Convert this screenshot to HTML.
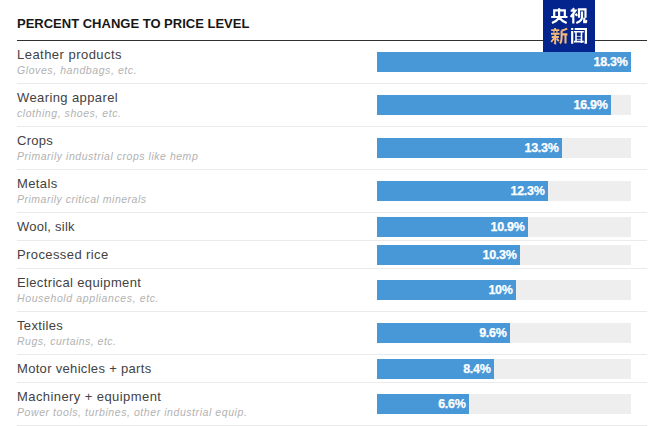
<!DOCTYPE html>
<html><head><meta charset="utf-8">
<style>
html,body{margin:0;padding:0;background:#fff;}
body{width:655px;height:426px;position:relative;overflow:hidden;font-family:"Liberation Sans",sans-serif;}
.title{position:absolute;left:17px;top:16px;font-size:13px;line-height:15px;font-weight:bold;color:#171717;white-space:nowrap;letter-spacing:0px;}
.hl{position:absolute;left:17px;top:40px;width:630px;height:1px;background:#303030;}
.logo{position:absolute;left:543px;top:0;width:52px;height:52px;background:#02248c;}
.row{position:absolute;left:17px;width:630px;border-bottom:1px solid #ebebeb;}
.n{position:absolute;left:0;top:6px;font-size:13px;line-height:15px;color:#424242;white-space:nowrap;}
.one .n{top:6px;}
.s{position:absolute;left:0;top:23px;font-size:10.5px;line-height:13px;font-style:italic;color:#b2b2b2;white-space:nowrap;}
.t{position:absolute;left:360px;top:11px;width:254px;height:20px;background:#eeeeee;}
.one .t{top:4px;}
.b{height:20px;background:#4898d8;position:relative;}
.b span{position:absolute;right:3.5px;top:3px;font-size:12.5px;line-height:14px;font-weight:bold;color:#fff;white-space:nowrap;letter-spacing:-0.3px;-webkit-text-stroke:0.25px #fff;}
</style></head><body>
<div class="title">PERCENT CHANGE TO PRICE LEVEL</div>
<div class="hl"></div>
<div class="row two" style="top:41px;height:42px"><div class="n" style="letter-spacing:0.467px">Leather products</div><div class="s" style="letter-spacing:0.58px">Gloves, handbags, etc.</div><div class="t"><div class="b" style="width:254px"><span>18.3%</span></div></div></div>
<div class="row two" style="top:84px;height:42px"><div class="n" style="letter-spacing:0.393px">Wearing apparel</div><div class="s" style="letter-spacing:0.555px">clothing, shoes, etc.</div><div class="t"><div class="b" style="width:234px"><span>16.9%</span></div></div></div>
<div class="row two" style="top:127px;height:42px"><div class="n" style="letter-spacing:0.25px">Crops</div><div class="s" style="letter-spacing:0.529px">Primarily industrial crops like hemp</div><div class="t"><div class="b" style="width:185px"><span>13.3%</span></div></div></div>
<div class="row two" style="top:170px;height:42px"><div class="n" style="letter-spacing:0.4px">Metals</div><div class="s" style="letter-spacing:0.497px">Primarily critical minerals</div><div class="t"><div class="b" style="width:171px"><span>12.3%</span></div></div></div>
<div class="row one" style="top:213px;height:27px"><div class="n" style="letter-spacing:0.244px">Wool, silk</div><div class="t"><div class="b" style="width:151px"><span>10.9%</span></div></div></div>
<div class="row one" style="top:241px;height:27px"><div class="n" style="letter-spacing:0.4px">Processed rice</div><div class="t"><div class="b" style="width:143px"><span>10.3%</span></div></div></div>
<div class="row two" style="top:269px;height:42px"><div class="n" style="letter-spacing:0.358px">Electrical equipment</div><div class="s" style="letter-spacing:0.616px">Household appliances, etc.</div><div class="t"><div class="b" style="width:139px"><span>10%</span></div></div></div>
<div class="row two" style="top:312px;height:42px"><div class="n" style="letter-spacing:0.357px">Textiles</div><div class="s" style="letter-spacing:0.479px">Rugs, curtains, etc.</div><div class="t"><div class="b" style="width:133px"><span>9.6%</span></div></div></div>
<div class="row one" style="top:355px;height:27px"><div class="n" style="letter-spacing:0.315px">Motor vehicles + parts</div><div class="t"><div class="b" style="width:117px"><span>8.4%</span></div></div></div>
<div class="row two" style="top:383px;height:42px"><div class="n" style="letter-spacing:0.42px">Machinery + equipment</div><div class="s" style="letter-spacing:0.567px">Power tools, turbines, other industrial equip.</div><div class="t"><div class="b" style="width:92px"><span>6.6%</span></div></div></div>
<div class="logo"><svg width="52" height="52" viewBox="543 0 52 52" style="position:absolute;left:0;top:0" fill="none" stroke="#fff" stroke-width="2.2" stroke-linecap="butt" stroke-linejoin="miter">
<!-- yang -->
<path d="M559.1 8.2V18M554.2 17V10.3H564.8V17M551.2 17H567.5M559 18Q556.8 20.9 552 23.1M559.5 18Q561.7 20.9 566.7 23.1"/>
<!-- shi -->
<path d="M572.8 8.2L574 9.6M570.7 10.7H575.4L570.7 17M573.3 13.4V23.5M575.6 13.6L577 15.8M579 17.8V9.3H585.5V17.8M582 11.4V17.5Q581.8 21 576.3 23M584.3 17.8V22"/>
<path stroke-width="2.6" d="M583.2 21.9H586.9"/><path stroke-width="1.6" d="M586.4 22V19.9"/>
<!-- xin -->
<g stroke="#f5b87a" stroke-width="1.9">
<path d="M555.1 27.9V29.3M551.2 30.1H559.3M551 33.8H559.6M551.7 37H558.9M555.2 34V43.3L554 42.8M554 38.3L551.2 42M556.6 38.5L558.8 41.2"/>
<path stroke-width="1.5" d="M553.7 31.2L554.2 32.6M557.2 31.2L556.7 32.6"/>
<path stroke-width="2.1" d="M567.2 28.6Q564 30.2 561.6 30.6M561.6 30.4V38Q561.5 42 560 43.5M561.6 34.4H567.4M565.5 34.4V43.5"/>
</g>
<!-- wen -->
<path d="M572.2 28V30M572.2 31V43.7M574.7 29H585.9V42.7H584.5"/>
<path stroke-width="1.6" d="M574 31.7H583.8M576 31V42M581.5 31V43M574 41.6H583.8"/>
<path stroke-width="1" stroke-opacity="0.75" d="M576 36.4H581.5M576 39.3H581.5"/>
</svg>
</div>
</body></html>
